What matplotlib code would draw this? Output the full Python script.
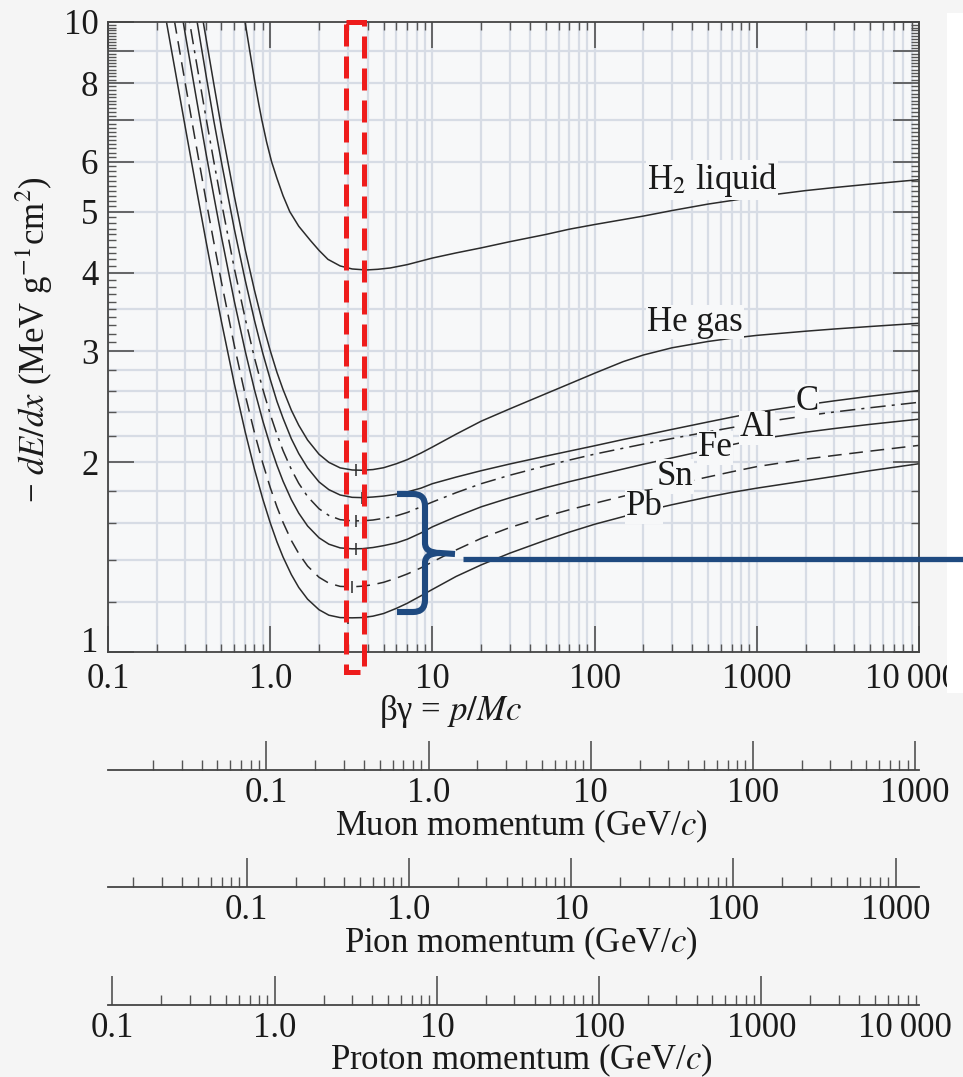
import matplotlib
matplotlib.use('Agg')
import matplotlib.pyplot as plt
from matplotlib.ticker import FixedLocator, NullFormatter
from matplotlib.path import Path
from matplotlib.patches import PathPatch, Rectangle

plt.rcParams['font.family'] = ['Liberation Serif', 'DejaVu Serif']
plt.rcParams['mathtext.fontset'] = 'stix'

# beta*gamma sample points shared by the He..Pb curves
bg = [0.2, 0.225, 0.25, 0.275, 0.3, 0.35, 0.4, 0.45, 0.5, 0.6, 0.7, 0.8, 0.9, 1.0, 1.1,
      1.2, 1.35, 1.5, 1.7, 2.0, 2.3, 2.7, 3.2, 3.7, 4.3, 5.0, 6.0, 7.0, 8.5, 10, 14, 20,
      30, 50, 70, 100, 150, 200, 300, 500, 700, 1000, 2000, 3000, 5000, 10000]

he = [28.5, 23.5, 19.8, 17.0, 14.8, 11.6, 9.5, 7.95, 6.8, 5.3, 4.36, 3.75, 3.32, 3.01, 2.78,
      2.61, 2.42, 2.29, 2.17, 2.06, 2.0, 1.96, 1.945, 1.943, 1.948, 1.961, 1.99, 2.02, 2.069,
      2.115, 2.217, 2.325, 2.432, 2.57, 2.665, 2.77, 2.89, 2.961, 3.04, 3.111, 3.148, 3.181,
      3.23, 3.256, 3.286, 3.325]
c = [24.5, 20.2, 17.1, 14.7, 12.8, 10.2, 8.3, 6.95, 6.0, 4.7, 3.9, 3.36, 2.98, 2.71, 2.50,
     2.35, 2.18, 2.065, 1.96, 1.862, 1.81, 1.775, 1.76, 1.758, 1.762, 1.768, 1.78, 1.795, 1.82,
     1.85, 1.895, 1.94, 1.988, 2.046, 2.084, 2.125, 2.174, 2.207, 2.256, 2.318, 2.359, 2.401,
     2.468, 2.504, 2.547, 2.60]
al = [20.6, 17.1, 14.5, 12.5, 10.95, 8.66, 7.1, 5.99, 5.18, 4.07, 3.39, 2.93, 2.614, 2.385,
      2.216, 2.088, 1.949, 1.852, 1.765, 1.688, 1.647, 1.622, 1.615, 1.615, 1.62, 1.63, 1.645,
      1.665, 1.70, 1.73, 1.79, 1.85, 1.908, 1.975, 2.017, 2.061, 2.106, 2.138, 2.182, 2.236,
      2.271, 2.308, 2.371, 2.404, 2.442, 2.491]
fe = [17.73, 14.8, 12.59, 10.89, 9.54, 7.58, 6.23, 5.28, 4.57, 3.61, 3.01, 2.607, 2.328, 2.127,
      1.979, 1.867, 1.745, 1.661, 1.585, 1.518, 1.483, 1.463, 1.458, 1.459, 1.465, 1.475, 1.49,
      1.51, 1.545, 1.58, 1.64, 1.70, 1.757, 1.823, 1.864, 1.905, 1.952, 1.986, 2.033, 2.093,
      2.133, 2.175, 2.233, 2.263, 2.298, 2.342]
sn = [14.57, 12.23, 10.45, 9.07, 7.97, 6.36, 5.25, 4.46, 3.87, 3.07, 2.564, 2.228, 1.994, 1.825,
      1.700, 1.606, 1.503, 1.433, 1.369, 1.314, 1.286, 1.271, 1.269, 1.272, 1.279, 1.29, 1.31,
      1.33, 1.36, 1.39, 1.452, 1.515, 1.576, 1.642, 1.682, 1.722, 1.767, 1.798, 1.842, 1.896,
      1.932, 1.969, 2.024, 2.051, 2.084, 2.128]
pb = [12.17, 10.28, 8.83, 7.70, 6.79, 5.45, 4.52, 3.85, 3.35, 2.67, 2.24, 1.95, 1.749, 1.604,
      1.496, 1.415, 1.327, 1.266, 1.213, 1.167, 1.144, 1.134, 1.133, 1.134, 1.140, 1.151, 1.173,
      1.195, 1.228, 1.257, 1.318, 1.375, 1.435, 1.505, 1.55, 1.595, 1.64, 1.672, 1.713, 1.762,
      1.792, 1.82, 1.87, 1.90, 1.94, 1.99]

bg_h2 = [0.6, 0.65, 0.7, 0.75, 0.806, 0.85, 0.887, 0.95, 1.02, 1.1, 1.2, 1.32, 1.5, 1.77, 2.0,
         2.27, 2.7, 3.2, 3.9, 4.6, 5.5, 7, 10, 14, 20, 30, 50, 70, 100, 200, 300, 500, 1000,
         2000, 3000, 5000, 10000]
h2 = [13.1, 11.3, 10.0, 8.96, 8.0, 7.41, 7.0, 6.45, 6.0, 5.65, 5.30, 5.0, 4.74, 4.5, 4.34,
      4.2, 4.1, 4.055, 4.04, 4.05, 4.07, 4.12, 4.22, 4.30, 4.38, 4.48, 4.60, 4.69, 4.77, 4.92,
      5.02, 5.14, 5.28, 5.40, 5.46, 5.53, 5.62]

# position of the little minimum markers
min_bg = [3.9, 3.4, 3.7, 3.4, 3.4, 3.2, 3.0]
min_val = [4.04, 1.944, 1.758, 1.615, 1.458, 1.269, 1.133]

x_labels = ['0.1', '1.0', '10', '100', '1000', '']
y_labels = ['', '2', '3', '4', '5', '6', '', '8', '', '10']

masses = [0.10566, 0.13957, 0.93827]   # GeV
particles = ['Muon', 'Pion', 'Proton']

W, H = 963, 1077
ink = '#2b2b2b'
txt = '#1a1a1a'
fs = 25


def box(l, t, r, b):
    return [l / W, 1 - b / H, (r - l) / W, (b - t) / H]


fig = plt.figure(figsize=(W / 100, H / 100), dpi=100)
fig.patch.set_facecolor('#f5f5f5')

ax = fig.add_axes(box(108, 22, 919, 652))
ax.set_facecolor('#f7f8f9')
ax.set_xscale('log')
ax.set_yscale('log')
ax.set_xlim(0.1, 10000)
ax.set_ylim(1, 10)

# grid
grid_x = [k * 10.0 ** e for e in range(-1, 4) for k in range(1, 10)]
grid_y = [1.2, 1.4, 1.6, 1.8, 2.0, 2.2, 2.4, 2.6, 2.8, 3.0, 3.5, 4, 5, 6, 7, 8, 9]
for gx in grid_x:
    ax.axvline(gx, color='#d7dce5', lw=1.6, zorder=0)
for gy in grid_y:
    ax.axhline(gy, color='#d7dce5', lw=1.6, zorder=0)

ax.xaxis.set_major_locator(FixedLocator([0.1, 1, 10, 100, 1000, 10000]))
ax.xaxis.set_minor_locator(FixedLocator([k * 10.0 ** e for e in range(-1, 4) for k in range(2, 10)]))
ax.xaxis.set_minor_formatter(NullFormatter())
ax.set_xticklabels(x_labels)

ax.yaxis.set_major_locator(FixedLocator(list(range(1, 11))))
y_minor = [1.2, 1.4, 1.6, 1.8, 2.2, 2.4, 2.6, 2.8] + \
    [n + d / 10 for n in range(3, 10) for d in range(1, 10)]
ax.yaxis.set_minor_locator(FixedLocator(y_minor))
ax.yaxis.set_minor_formatter(NullFormatter())
ax.set_yticklabels(y_labels)

ax.tick_params(which='major', direction='in', length=19, width=1.1, color='#444',
               top=True, right=True, labelsize=fs, labelcolor=txt)
ax.tick_params(axis='x', which='major', pad=8)
ax.tick_params(axis='y', which='major', pad=7)
ax.tick_params(which='minor', direction='in', length=6, width=1.0, color='#555',
               top=True, right=True)
for s in ax.spines.values():
    s.set_color('#444')
    s.set_linewidth(1.3)

# the "1" sits a little higher and "10 000" a little left, as in the original
ax.annotate('1', xy=(0, 1), xycoords=('axes fraction', 'data'), xytext=(-7, 6),
            textcoords='offset points', ha='right', va='center', fontsize=fs, color=txt)
ax.annotate('10\u2009000', xy=(1, 0), xycoords='axes fraction', xytext=(-5, -8),
            textcoords='offset points', ha='center', va='top', fontsize=fs, color=txt)

lw = 1.1
ax.plot(bg_h2, h2, color=ink, lw=lw)
ax.plot(bg, he, color=ink, lw=lw)
ax.plot(bg, c, color=ink, lw=lw)
ax.plot(bg, al, color=ink, lw=lw, ls=(0, (10, 4, 2, 4)))
ax.plot(bg, fe, color=ink, lw=lw)
ax.plot(bg, sn, color=ink, lw=lw, ls=(0, (9, 5)))
ax.plot(bg, pb, color=ink, lw=lw)
ax.plot(min_bg, min_val, ls='none', marker='|', ms=9, mew=1.1, color=ink)

lab = dict(fontsize=fs, color=txt, ha='center', va='center',
           bbox=dict(facecolor='#f7f8f9', edgecolor='none', pad=0.5))
ax.text(530, 5.61, 'H$_2$ liquid', **lab)
ax.text(416, 3.34, 'He gas', **lab)
ax.text(2040, 2.50, 'C', **lab)
ax.text(1000, 2.27, 'Al', **lab)
ax.text(552, 2.11, 'Fe', **lab)
ax.text(313, 1.90, 'Sn', **lab)
ax.text(202, 1.70, 'Pb', **lab)

fig.text(450 / W, 1 - 712 / H, 'βγ = $p/Mc$', fontsize=fs, ha='center', va='center',
         color=txt)
fig.text(34 / W, 1 - 503 / H, '\u2212 $dE/dx$ (MeV g$^{-1}$cm$^{2}$)', fontsize=fs,
         rotation=90, ha='center', va='bottom', color=txt)

# momentum scales
line_y = [770, 887, 1005]
title_y = [826, 943, 1060]
for name, m, yl, ty in zip(particles, masses, line_y, title_y):
    a = fig.add_axes(box(108, yl - 40, 919, yl))
    a.set_xscale('log')
    lo, hi = 0.1 * m, 10000 * m
    a.set_xlim(lo, hi)
    a.patch.set_alpha(0)
    for s in ['left', 'right', 'top']:
        a.spines[s].set_visible(False)
    a.spines['bottom'].set_color('#444')
    a.spines['bottom'].set_linewidth(1.3)
    a.set_yticks([])
    majors = [v for v in [0.1, 1, 10, 100, 1000] if lo <= v <= hi]
    minors = [k * 10.0 ** e for e in range(-2, 4) for k in range(2, 10)
              if lo <= k * 10.0 ** e <= hi]
    a.xaxis.set_major_locator(FixedLocator(majors))
    a.xaxis.set_minor_locator(FixedLocator(minors))
    a.xaxis.set_minor_formatter(NullFormatter())
    a.set_xticklabels(['0.1', '1.0', '10', '100', '1000'][:len(majors)])
    a.tick_params(which='major', direction='in', length=21, width=1.1, color='#444',
                  labelsize=fs, pad=5, labelcolor=txt)
    a.tick_params(which='minor', direction='in', length=7, width=1.0, color='#555')
    if name == 'Proton':
        a.annotate('10\u2009000', xy=(1, 0), xycoords='axes fraction', xytext=(-10, -5),
                   textcoords='offset points', ha='center', va='top', fontsize=fs, color=txt)
    fig.text(521 / W, 1 - ty / H, name + ' momentum (GeV/$c$)', fontsize=fs,
             ha='center', va='center', color=txt)

# overlay with the highlight marks (pixel coordinates)
ov = fig.add_axes([0, 0, 1, 1], zorder=10)
ov.set_xlim(0, W)
ov.set_ylim(H, 0)
ov.axis('off')
ov.patch.set_alpha(0)

ov.add_patch(Rectangle((947, 13), 16, 680, facecolor='white', edgecolor='none'))
ov.add_patch(Rectangle((346, 22), 18, 650, facecolor='none', edgecolor='#ee1c1c',
                       lw=3.6, ls=(0, (4.4, 2))))

blue = '#1f4a80'
verts = [(397, 494), (413, 494), (425, 494), (425, 506), (425, 543), (425, 553), (440, 553),
         (455, 554),
         (440, 553), (425, 553), (425, 563), (425, 600), (425, 612), (413, 612), (397, 612)]
codes = [Path.MOVETO, Path.LINETO, Path.CURVE3, Path.CURVE3, Path.LINETO, Path.CURVE3,
         Path.CURVE3, Path.LINETO,
         Path.MOVETO, Path.CURVE3, Path.CURVE3, Path.LINETO, Path.CURVE3, Path.CURVE3,
         Path.LINETO]
ov.add_patch(PathPatch(Path(verts, codes), facecolor='none', edgecolor=blue, lw=4.4,
                       capstyle='butt'))
ov.plot([463, 963], [559, 559], color=blue, lw=3.8, solid_capstyle='butt')

fig.savefig('out.png', dpi=100, facecolor=fig.get_facecolor())
